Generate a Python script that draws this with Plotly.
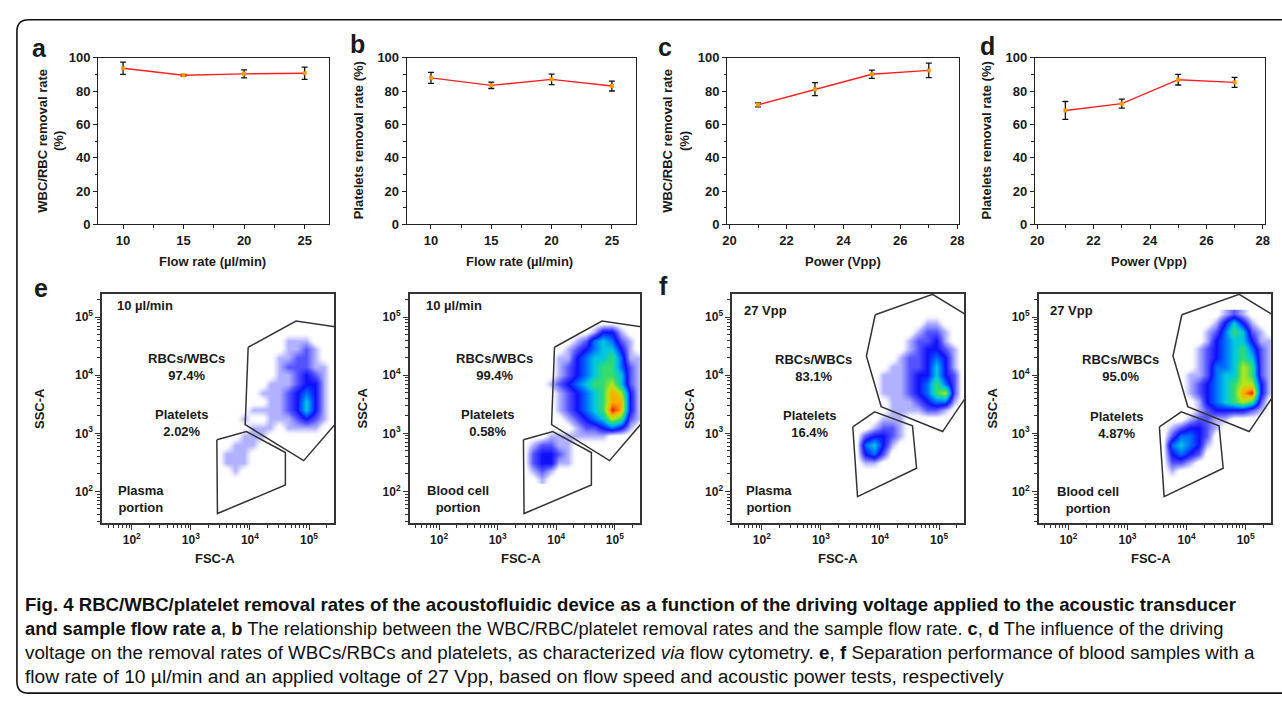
import math
import plotly.graph_objects as go

W, H = 1282, 708
FONT = "Liberation Sans, Arial, sans-serif"
INK = "#1a1a1a"

# ---------------- data: panels a-d ----------------
flow_rate = [10, 15, 20, 25]
wbc_rbc_vs_flow = [93.8, 89.6, 90.4, 90.8]
wbc_rbc_vs_flow_err = [3.7, 0.5, 2.4, 3.7]
platelet_vs_flow = [88.0, 83.5, 87.1, 83.1]
platelet_vs_flow_err = [3.3, 1.9, 3.2, 3.0]

power_vpp = [21, 23, 25, 27]
wbc_rbc_vs_power = [71.8, 81.2, 90.2, 92.5]
wbc_rbc_vs_power_err = [1.2, 3.9, 2.5, 4.3]
platelet_vs_power = [68.4, 72.5, 86.9, 85.3]
platelet_vs_power_err = [5.4, 2.7, 3.2, 3.0]

# ---------------- data: panels e-f (log10 FSC-A / SSC-A) ----------------
grid_log_fsc = [3.30, 3.45, 3.60, 3.75, 3.90, 4.05, 4.20, 4.35, 4.50, 4.65, 4.80, 4.95, 5.10, 5.25, 5.40]
grid_log_ssc = [5.05, 4.90, 4.75, 4.60, 4.45, 4.30, 4.15, 4.00, 3.85, 3.70, 3.55, 3.40, 3.25, 3.10,
                2.95, 2.80, 2.65, 2.50, 2.35, 2.20]

# density level (0-9) per grid cell, one string per SSC row (top to bottom)
density_e_plasma = [
    "000000000000000",
    "000000000000000",
    "000000000000000",
    "000000000111000",
    "000000000112100",
    "000000001122100",
    "000000001222110",
    "000000001123210",
    "000000011123310",
    "000000111234310",
    "000000011235310",
    "000001111235310",
    "000010011123210",
    "000001110111100",
    "000011100000000",
    "000111000000000",
    "001110000000000",
    "001110000000000",
    "000100000000000",
    "000000000000000",
]
density_e_blood = [
    "000000000000000",
    "000000000000000",
    "000000000133100",
    "000000012454210",
    "000000123455310",
    "000001134556411",
    "000001234566421",
    "000001234566521",
    "000012345667521",
    "000001234568731",
    "000001234568831",
    "000001234569831",
    "000000123457621",
    "000000012234310",
    "000011111110000",
    "001221100000000",
    "002332100000000",
    "002331100000000",
    "001210000000000",
    "000100000000000",
]
density_f_plasma = [
    "000000000000000",
    "000000000011000",
    "000000000122100",
    "000000001223100",
    "000000001233210",
    "000000012234310",
    "000000112235310",
    "000001112335320",
    "000001112346420",
    "000001112346720",
    "000000111234410",
    "000000111122100",
    "000001110000000",
    "000012210000000",
    "000233210000000",
    "000453100000000",
    "000342000000000",
    "000110000000000",
    "000000000000000",
    "000000000000000",
]
density_f_blood = [
    "000000000121000",
    "000000001353100",
    "000000012465210",
    "000000013455311",
    "000000123456421",
    "000000123456521",
    "000000124457621",
    "000001124557621",
    "000001234567731",
    "000001234568931",
    "000000134567620",
    "000000123333210",
    "000001221100000",
    "000123321000000",
    "000244320000000",
    "000454310000000",
    "000343200000000",
    "000221000000000",
    "000100000000000",
    "000000000000000",
]

# gates (log10 FSC-A, log10 SSC-A)
gate_e_cells_fsc = [3.97, 4.78, 5.60, 5.60, 4.91, 3.92, 3.97]
gate_e_cells_ssc = [4.48, 4.93, 4.81, 3.34, 2.53, 3.15, 4.48]
gate_e_low_fsc = [3.44, 3.94, 4.60, 4.60, 3.45, 3.44]
gate_e_low_ssc = [2.89, 3.03, 2.67, 2.11, 1.62, 2.89]
gate_f_cells_fsc = [3.92, 4.89, 5.60, 5.60, 5.06, 4.02, 3.77, 3.92]
gate_f_cells_ssc = [5.04, 5.39, 4.95, 3.84, 3.03, 3.46, 4.33, 5.04]
gate_f_low_fsc = [3.54, 3.91, 4.55, 4.62, 3.62, 3.54]
gate_f_low_ssc = [3.11, 3.37, 3.13, 2.40, 1.91, 3.11]

cyto_panels = [
    (density_e_plasma, "e", "10 µl/min", "97.4%", "2.02%", "Plasma<br>portion"),
    (density_e_blood, "e", "10 µl/min", "99.4%", "0.58%", "Blood cell<br>portion"),
    (density_f_plasma, "f", "27 Vpp", "83.1%", "16.4%", "Plasma<br>portion"),
    (density_f_blood, "f", "27 Vpp", "95.0%", "4.87%", "Blood cell<br>portion"),
]
gates = {
    "e": ((gate_e_cells_fsc, gate_e_cells_ssc), (gate_e_low_fsc, gate_e_low_ssc)),
    "f": ((gate_f_cells_fsc, gate_f_cells_ssc), (gate_f_low_fsc, gate_f_low_ssc)),
}

# ---------------- layout geometry (pixels) ----------------
top_boxes = [(94, 327), (405, 636), (728, 962), (1038, 1270)]
top_y = (52, 222)
cyto_boxes = [(98, 332), (408, 640), (733, 967), (1042, 1276)]
cyto_y = (293, 527)


def dom_x(l, r):
    return [l / W, r / W]


def dom_y(t, b):
    return [1 - b / H, 1 - t / H]


def pann(text, x, y, size=13, bold=True, xanchor="center", yanchor="middle", angle=0, color=INK):
    return dict(text=text, x=x / W, y=1 - y / H, xref="paper", yref="paper", showarrow=False,
                font=dict(family=FONT, size=size, color=color, weight="bold" if bold else "normal"),
                xanchor=xanchor, yanchor=yanchor, textangle=angle)


fig = go.Figure()
layout = dict(width=W, height=H, margin=dict(l=0, r=0, t=0, b=0), paper_bgcolor="white",
              plot_bgcolor="rgba(0,0,0,0)", showlegend=False)
annotations = []
shapes = []

# ---------------- top row ----------------
top_series = [
    (flow_rate, wbc_rbc_vs_flow, wbc_rbc_vs_flow_err, [7.95, 27.05], 10, 5, 2.5),
    (flow_rate, platelet_vs_flow, platelet_vs_flow_err, [8.0, 27.0], 10, 5, 2.5),
    (power_vpp, wbc_rbc_vs_power, wbc_rbc_vs_power_err, [19.92, 28.08], 20, 2, 1),
    (power_vpp, platelet_vs_power, platelet_vs_power_err, [19.92, 28.08], 20, 2, 1),
]
for i, (xs, ys, es, xr, t0, dt, mdt) in enumerate(top_series, start=1):
    sx = "" if i == 1 else str(i)
    fig.add_trace(go.Scatter(
        x=xs, y=ys, mode="lines+markers", xaxis="x" + sx, yaxis="y" + sx,
        line=dict(color="#ff2020", width=1.4),
        marker=dict(color="#ff9a00", size=4, symbol="square"),
        error_y=dict(type="data", array=es, visible=True, color="#111", thickness=1.3, width=3),
        hoverinfo="skip"))
    l, r = top_boxes[i - 1]
    common_line = dict(showline=True, mirror=True, linecolor="#222", linewidth=1.3, showgrid=False,
                       zeroline=False, ticks="outside", ticklen=4, tickwidth=1.2, tickcolor="#222",
                       tickfont=dict(family=FONT, size=13, color=INK, weight="bold"))
    layout["xaxis" + sx] = dict(domain=dom_x(l, r), anchor="y" + sx, range=xr, tick0=t0, dtick=dt,
                                minor=dict(dtick=mdt, tick0=t0, ticks="outside", ticklen=2.5, tickcolor="#222"),
                                **common_line)
    layout["yaxis" + sx] = dict(domain=dom_y(*top_y), anchor="x" + sx, range=[0, 100], tick0=0, dtick=20,
                                minor=dict(dtick=10, ticks="outside", ticklen=2.5, tickcolor="#222"),
                                **common_line)

annotations += [
    pann("WBC/RBC removal rate<br>(%)", 46, 137, angle=-90),
    pann("Platelets removal rate (%)", 356, 136, angle=-90),
    pann("WBC/RBC removal rate<br>(%)", 676, 137, angle=-90),
    pann("Platelets removal rate (%)", 989, 136, angle=-90),
    pann("Flow rate (µl/min)", 209, 260),
    pann("Flow rate (µl/min)", 519, 260),
    pann("Power (Vpp)", 845, 260),
    pann("Power (Vpp)", 1153, 260),
]
for letter, x, y in [("a", 35, 42), ("b", 355, 38), ("c", 665, 41), ("d", 990, 40), ("e", 36, 287), ("f", 664, 285)]:
    annotations.append(pann(letter, x, y, size=25))

# ---------------- flow cytometry row ----------------
cs = [[0.0, "rgba(255,255,255,0)"], [0.05, "rgba(80,80,255,0.10)"], [0.111, "rgba(50,50,255,0.38)"],
      [0.222, "rgba(25,25,255,0.75)"], [0.333, "rgb(15,15,250)"], [0.444, "rgb(0,110,255)"],
      [0.556, "rgb(0,200,225)"], [0.667, "rgb(50,220,110)"], [0.778, "rgb(185,230,20)"],
      [0.889, "rgb(255,170,0)"], [1.0, "rgb(235,30,0)"]]

major = [2, 3, 4, 5]
major_txt = ["10<sup>2</sup>", "10<sup>3</sup>", "10<sup>4</sup>", "10<sup>5</sup>"]
minor_x = [d + math.log10(k) for d in range(1, 6) for k in range(2, 10) if 1.5 < d + math.log10(k) < 5.43]
minor_y = [d + math.log10(k) for d in range(1, 6) for k in range(2, 10) if 1.46 < d + math.log10(k) < 5.40]

text_pos = [
    ((1.72, 5.20), (2.92, 4.14), (2.85, 3.185), (2.15, 1.865)),
    ((1.75, 5.20), (2.95, 4.14), (2.82, 3.17), (2.32, 1.865)),
    ((1.67, 5.12), (2.87, 4.12), (2.80, 3.16), (2.12, 1.865)),
    ((1.66, 5.12), (2.88, 4.12), (2.81, 3.14), (2.33, 1.855)),
]

for j, (dens, gkey, header, cells_pct, plt_pct, corner) in enumerate(cyto_panels):
    i = 5 + j
    sx = str(i)
    z = [[int(c) for c in row] for row in dens]
    fig.add_trace(go.Heatmap(x=grid_log_fsc, y=grid_log_ssc, z=z, zmin=0, zmax=9, colorscale=cs,
                             zsmooth="best", showscale=False, hoverinfo="skip",
                             xaxis="x" + sx, yaxis="y" + sx))
    for gx, gy in gates[gkey]:
        fig.add_trace(go.Scatter(x=gx, y=gy, mode="lines", line=dict(color="#333", width=1.5),
                                 xaxis="x" + sx, yaxis="y" + sx, hoverinfo="skip"))
    l, r = cyto_boxes[j]
    cl = dict(showline=True, mirror=True, linecolor="#333", linewidth=1.6, showgrid=False, zeroline=False,
              ticks="outside", ticklen=5, tickwidth=1.2, tickcolor="#333",
              tickmode="array", tickvals=major, ticktext=major_txt,
              tickfont=dict(family=FONT, size=12, color=INK, weight="bold"))
    layout["xaxis" + sx] = dict(domain=dom_x(l, r), anchor="y" + sx, range=[1.5, 5.43],
                                minor=dict(tickmode="array", tickvals=minor_x, ticks="outside", ticklen=3,
                                           tickcolor="#333"), **cl)
    layout["yaxis" + sx] = dict(domain=dom_y(*cyto_y), anchor="x" + sx, range=[1.46, 5.40],
                                minor=dict(tickmode="array", tickvals=minor_y, ticks="outside", ticklen=3,
                                           tickcolor="#333"), **cl)
    (hx, hy), (cx, cy), (px_, py_), (qx, qy) = text_pos[j]
    for txt, x, y, xa in [(header, hx, hy, "left"), ("RBCs/WBCs<br>" + cells_pct, cx, cy, "center"),
                          ("Platelets<br>" + plt_pct, px_, py_, "center"), (corner, qx, qy, "center")]:
        annotations.append(dict(text=txt, x=x, y=y, xref="x" + sx, yref="y" + sx, showarrow=False,
                                xanchor=xa, yanchor="middle",
                                font=dict(family=FONT, size=13, color=INK, weight="bold")))

for x, y in [(212, 563), (520, 563), (840, 563), (1155, 563)]:
    annotations.append(pann("FSC-A", x, y))
for x, y in [(35, 410), (360, 410), (690, 410), (995, 410)]:
    annotations.append(pann("SSC-A", x, y, angle=-90))

# ---------------- caption ----------------
cap = [
    "<b>Fig. 4 RBC/WBC/platelet removal rates of the acoustofluidic device as a function of the driving voltage applied to the acoustic transducer</b>",
    "<b>and sample flow rate a</b>, <b>b</b> The relationship between the WBC/RBC/platelet removal rates and the sample flow rate. <b>c</b>, <b>d</b> The influence of the driving",
    "voltage on the removal rates of WBCs/RBCs and platelets, as characterized <i>via</i> flow cytometry. <b>e</b>, <b>f</b> Separation performance of blood samples with a",
    "flow rate of 10 µl/min and an applied voltage of 27 Vpp, based on flow speed and acoustic power tests, respectively",
]
cap_sizes = [18.6, 18.3, 18.8, 19.2]
for k, line in enumerate(cap):
    annotations.append(dict(text=line, x=18 / W, y=1 - (610 + 24.6 * k) / H, xref="paper", yref="paper",
                            showarrow=False, xanchor="left", yanchor="middle",
                            font=dict(family=FONT, size=cap_sizes[k], color="#111")))

# outer rounded frame (right side runs off the page)
L, T, R, B, rr = 12 / W, 1 - 13 / H, 1295 / W, 1 - 701 / H, 12
rx, ry = rr / W, rr / H
path = (f"M {L + rx},{T} L {R},{T} L {R},{B} L {L + rx},{B} Q {L},{B} {L},{B + ry} "
        f"L {L},{T - ry} Q {L},{T} {L + rx},{T}")
shapes.append(dict(type="path", path=path, xref="paper", yref="paper", line=dict(color="#111", width=1.6)))

layout["annotations"] = annotations
layout["shapes"] = shapes
fig.update_layout(**layout)
fig.write_html("out.html", config={"displayModeBar": False},
               post_script="document.body.style.margin='0px';document.body.style.overflow='hidden';")
